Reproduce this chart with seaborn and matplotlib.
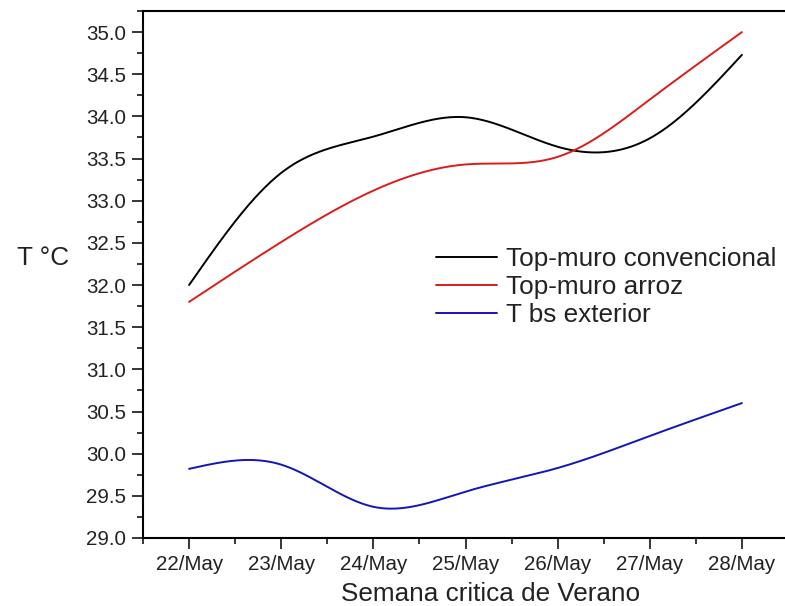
import numpy as np
import pandas as pd
import matplotlib
matplotlib.use("Agg")
import matplotlib.pyplot as plt
from matplotlib.ticker import MultipleLocator
import seaborn as sns

# ---- data ----
days = ["22/May", "23/May", "24/May", "25/May", "26/May", "27/May", "28/May"]
top_muro_convencional = [32.00, 33.33, 33.76, 33.99, 33.64, 33.74, 34.73]
top_muro_arroz = [31.80, 32.51, 33.12, 33.43, 33.52, 34.20, 35.00]
t_bs_exterior = [29.82, 29.87, 29.37, 29.55, 29.83, 30.21, 30.60]
series_names = ["Top-muro convencional", "Top-muro arroz", "T bs exterior"]
series_colors = ["#000000", "#dc1c1c", "#1414bb"]


def natural_spline(x, y, n=400):
    """Smooth connecting curve (like Origin's spline line style)."""
    x = np.asarray(x, float)
    y = np.asarray(y, float)
    k = len(x)
    h = np.diff(x)
    A = np.zeros((k, k))
    r = np.zeros(k)
    A[0, 0] = 1.0
    A[-1, -1] = 1.0
    for i in range(1, k - 1):
        A[i, i - 1] = h[i - 1]
        A[i, i] = 2 * (h[i - 1] + h[i])
        A[i, i + 1] = h[i]
        r[i] = 6 * ((y[i + 1] - y[i]) / h[i] - (y[i] - y[i - 1]) / h[i - 1])
    M = np.linalg.solve(A, r)
    xs = np.linspace(x[0], x[-1], n)
    idx = np.clip(np.searchsorted(x, xs) - 1, 0, k - 2)
    x0, x1 = x[idx], x[idx + 1]
    hh = x1 - x0
    a = (x1 - xs) / hh
    b = (xs - x0) / hh
    ys = (a * y[idx] + b * y[idx + 1]
          + ((a ** 3 - a) * M[idx] + (b ** 3 - b) * M[idx + 1]) * hh ** 2 / 6)
    return xs, ys


sns.set_style("ticks")
plt.rcParams["font.family"] = ["Liberation Sans", "DejaVu Sans"]

fig = plt.figure(figsize=(7.85, 6.06), dpi=100)
L, R, T, B = 143, 788, 11, 538
W, H = 785, 606
ax = fig.add_axes([L / W, 1 - B / H, (R - L) / W, (B - T) / H])

xpos = np.arange(len(days))
frames = []
for name, vals in zip(series_names,
                      [top_muro_convencional, top_muro_arroz, t_bs_exterior]):
    xs, ys = natural_spline(xpos, vals)
    frames.append(pd.DataFrame({"x": xs, "y": ys, "serie": name}))
df = pd.concat(frames, ignore_index=True)

sns.lineplot(data=df, x="x", y="y", hue="serie", hue_order=series_names,
             palette=dict(zip(series_names, series_colors)),
             sort=False, linewidth=1.4, ax=ax, legend=False)

ax.set_xlim(-0.5, 6.5)
ax.set_ylim(29.0, 35.25)
ax.set_xticks(xpos)
ax.set_xticklabels(days)
ax.xaxis.set_minor_locator(MultipleLocator(0.5))
ax.set_yticks(np.arange(29.0, 35.01, 0.5))
ax.set_yticklabels([f"{v:.1f}" for v in np.arange(29.0, 35.01, 0.5)])
ax.yaxis.set_minor_locator(MultipleLocator(0.25))

ax.tick_params(which="major", direction="out", length=8, width=1.1,
               labelsize=14.8, pad=4, color="black", labelcolor="#222222")
ax.tick_params(which="minor", direction="out", length=4.5, width=1.1,
               color="black")
ax.tick_params(top=False, right=False, which="both")

for s in ["left", "bottom", "top"]:
    ax.spines[s].set_visible(True)
    ax.spines[s].set_linewidth(1.5)
    ax.spines[s].set_color("black")
ax.spines["right"].set_visible(False)

ax.set_xlabel("Semana critica de Verano", fontsize=18.8, color="#222222")
ax.xaxis.set_label_coords((491 - L) / (R - L), -0.083)
ax.set_ylabel("T °C", fontsize=18.8, rotation=0, color="#222222",
              ha="center", va="center")
ax.yaxis.set_label_coords((43 - L) / (R - L), (B - 258) / (B - T))

handles = ax.get_lines()[:3]
leg = ax.legend(handles, series_names, loc="upper left",
                bbox_to_anchor=(436 / W, 1 - 247 / H),
                bbox_transform=fig.transFigure, frameon=False,
                fontsize=18.8, handlelength=2.35, handletextpad=0.35,
                labelspacing=0.16, borderpad=0, borderaxespad=0)
for t in leg.get_texts():
    t.set_color("#222222")

fig.savefig("out.png", dpi=100, facecolor="white")
